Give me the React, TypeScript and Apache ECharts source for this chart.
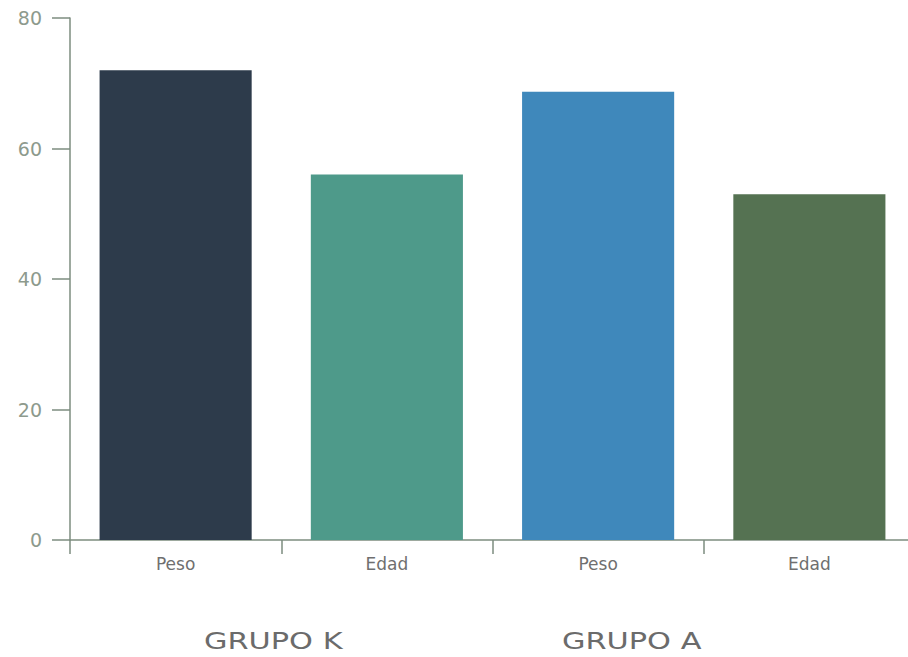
import React, { useEffect, useRef } from "react";
import * as echarts from "echarts";

// Measured values per group: weight (Peso) and age (Edad)
const categories = ["Peso", "Edad", "Peso", "Edad"];
const values = [72, 56, 68.7, 53];
const barColors = ["#2d3b4b", "#4e9a8a", "#3f88bb", "#557252"];
const groupLabels = ["GRUPO K", "GRUPO A"];
const yTicks = { min: 0, max: 80, interval: 20 };

const axisColor = "#7d8d7f";
const fontFamily = "'DejaVu Sans', 'Open Sans', sans-serif";

export default function App() {
  const ref = useRef<HTMLDivElement>(null);

  useEffect(() => {
    if (!ref.current) return;
    const chart = echarts.init(ref.current, undefined, { renderer: "svg" });
    const groupText = (text: string, x: number) => ({
      type: "text",
      x,
      y: 641,
      scaleX: 1.32,
      style: {
        text,
        fill: "#6b6b6b",
        fontSize: 23,
        fontFamily,
        textVerticalAlign: "middle",
      },
    });
    chart.setOption({
      animation: false,
      backgroundColor: "#ffffff",
      // the plot runs slightly past the visible right edge
      grid: { left: 70, top: 18, width: 845, height: 522 },
      xAxis: {
        type: "category",
        data: categories,
        axisLine: { show: true, lineStyle: { color: axisColor, width: 1.5 } },
        axisTick: { show: true, length: 14, lineStyle: { color: axisColor, width: 1.5 } },
        axisLabel: { color: "#6f6f6f", fontSize: 17, fontFamily, margin: 15 },
      },
      yAxis: {
        type: "value",
        min: yTicks.min,
        max: yTicks.max,
        interval: yTicks.interval,
        splitLine: { show: false },
        axisLine: { show: true, lineStyle: { color: axisColor, width: 1.5 } },
        axisTick: { show: true, length: 18, lineStyle: { color: axisColor, width: 1.5 } },
        axisLabel: { color: "#8d9a8d", fontSize: 19, fontFamily, margin: 28 },
      },
      series: [
        {
          type: "bar",
          barWidth: "72%",
          data: values.map((v, i) => ({ value: v, itemStyle: { color: barColors[i] } })),
        },
      ],
      graphic: [groupText(groupLabels[0], 204), groupText(groupLabels[1], 562)],
    });
    return () => chart.dispose();
  }, []);

  return (
    <div style={{ position: "absolute", left: 0, top: 0, width: 908, height: 657, overflow: "hidden" }}>
      <div ref={ref} style={{ width: 930, height: 657 }} />
    </div>
  );
}
